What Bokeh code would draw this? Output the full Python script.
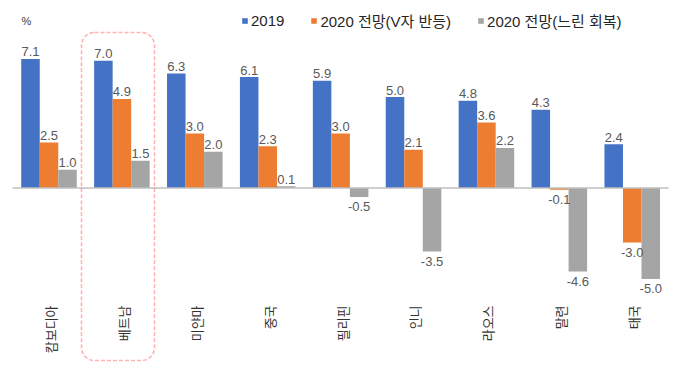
import math
from bokeh.plotting import figure
from bokeh.models import ColumnDataSource, Range1d, BoxAnnotation, Legend, LegendItem, Label
from bokeh.core.properties import value
from bokeh.embed import file_html
from bokeh.resources import INLINE

categories = ["캄보디아", "베트남", "미얀마", "중국", "필리핀", "인니", "라오스", "말련", "태국"]
series_names = ["2019", "2020 전망(V자 반등)", "2020 전망(느린 회복)"]
v2019 = [7.1, 7.0, 6.3, 6.1, 5.9, 5.0, 4.8, 4.3, 2.4]
v_rebound = [2.5, 4.9, 3.0, 2.3, 3.0, 2.1, 3.6, -0.1, -3.0]
v_slow = [1.0, 1.5, 2.0, 0.1, -0.5, -3.5, 2.2, -4.6, -5.0]
highlight = "베트남"
unit_label = "%"

colors = ["#4472C4", "#ED7D31", "#A5A5A5"]
LAT = "Liberation Sans, Noto Sans CJK KR"
KR = "Noto Sans CJK KR"

p = figure(width=680, height=374, output_backend="svg", toolbar_location=None,
           x_axis_location=None, y_axis_location=None, min_border=0,
           x_range=Range1d(-0.6653, 8.662), y_range=Range1d(-10.259, 10.313))
p.grid.visible = False
p.outline_line_color = None
p.background_fill_color = "white"
p.border_fill_color = "white"

n = len(categories)
bw = 0.254
offsets = [-bw, 0.0, bw]
all_series = [v2019, v_rebound, v_slow]
renderers = []
pos_x, pos_y, pos_t, neg_x, neg_y, neg_t = [], [], [], [], [], []
for s, (vals, off, col) in enumerate(zip(all_series, offsets, colors)):
    xs = [i + off for i in range(n)]
    src = ColumnDataSource(dict(x=xs, top=vals))
    r = p.vbar(x="x", top="top", bottom=0, width=bw, source=src,
               fill_color=col, line_color=None)
    renderers.append(r)
    for x, v in zip(xs, vals):
        if v >= 0:
            pos_x.append(x); pos_y.append(v); pos_t.append(f"{v:.1f}")
        else:
            neg_x.append(x); neg_y.append(v); neg_t.append(f"{v:.1f}")

# zero line
p.line(x=[-0.5, n - 0.5], y=[0, 0], line_color="#BFBFBF", line_width=1.5)

# value labels
p.text(x=pos_x, y=pos_y, text=pos_t, text_align="center", text_baseline="alphabetic",
       y_offset=-7, text_font_size="13px", text_color="#595959", text_font=value(LAT))
p.text(x=neg_x, y=neg_y, text=neg_t, text_align="center", text_baseline="top",
       y_offset=5, text_font_size="13px", text_color="#595959", text_font=value(LAT))

# category labels (rotated)
p.text(x=[i + 0.02 for i in range(n)], y=[-6.46] * n, text=categories, angle=math.pi / 2,
       text_align="right", text_baseline="middle", text_font_size="13px",
       text_color="#333333", text_font=value(KR))

# highlight box
hi = categories.index(highlight)
p.add_layout(BoxAnnotation(left=hi - 0.554, right=hi + 0.447, top=8.55, bottom=-9.49,
                           fill_alpha=0, line_color="#FF0000", line_width=1.6,
                           line_dash="4 2", border_radius=13))

# unit label
p.add_layout(Label(x=21, y=354, x_units="screen", y_units="screen", text=unit_label,
                   text_font_size="11px", text_color="#404040", text_baseline="middle",
                   text_font=LAT))

legend = Legend(items=[LegendItem(label=nm, renderers=[r]) for nm, r in zip(series_names, renderers)],
                orientation="horizontal", location=(241, 343),
                glyph_width=7, glyph_height=7, label_standoff=3, spacing=26,
                padding=0, margin=0, border_line_color=None, background_fill_alpha=0,
                label_text_font_size="15px", label_text_font=LAT, label_text_color="#262626",
                label_height=14)
p.add_layout(legend)

open("out.html", "w").write(file_html(p, INLINE))
